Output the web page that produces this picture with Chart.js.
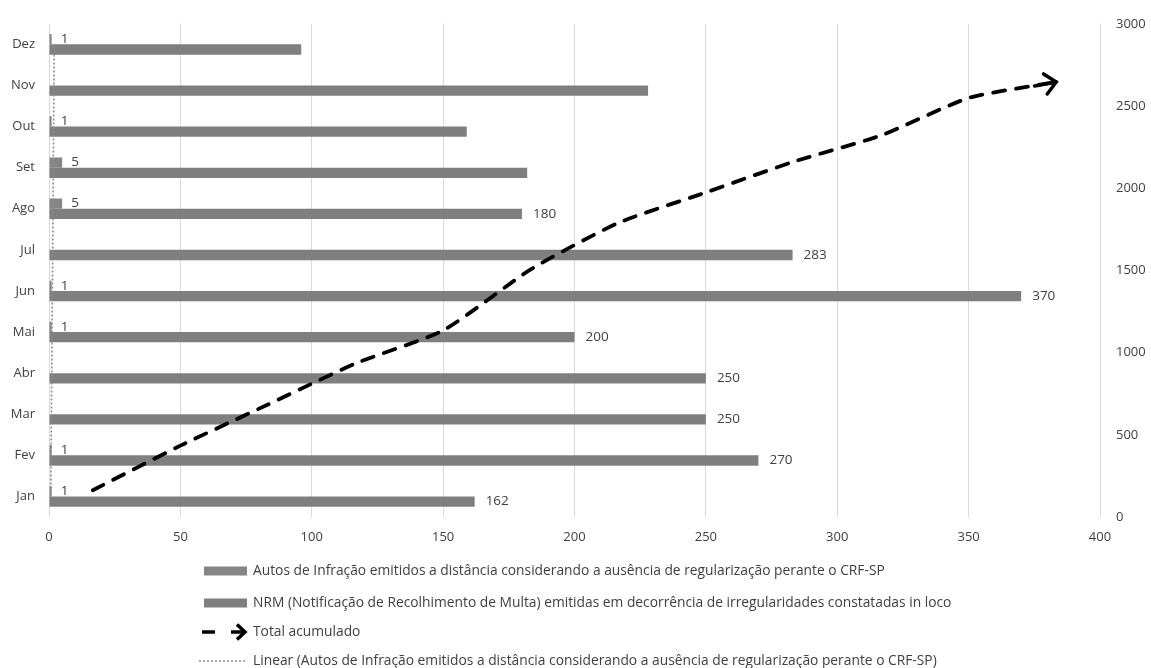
<!DOCTYPE html>
<html>
<head>
<meta charset="utf-8">
<script src="https://cdn.jsdelivr.net/npm/chart.js@4/dist/chart.umd.min.js"></script>
<style>
  html, body { margin: 0; padding: 0; background: #ffffff; }
  #c { display: block; }
</style>
</head>
<body>
<canvas id="c" width="1151" height="668"></canvas>
<script>
// Meses (eixo de categorias)
const months = ['Jan', 'Fev', 'Mar', 'Abr', 'Mai', 'Jun', 'Jul', 'Ago', 'Set', 'Out', 'Nov', 'Dez'];

// Autos de Infração emitidos a distância
const autosInfracao = [1, 1, 0, 0, 1, 1, 0, 5, 5, 1, 0, 1];

// NRM emitidas em decorrência de irregularidades constatadas in loco
const nrmEmitidas = [162, 270, 250, 250, 200, 370, 283, 180, 182, 159, 228, 96];

// Meses cujo valor de NRM aparece rotulado
const nrmLabelShown = [true, true, true, true, true, true, true, true, false, false, false, false];

// Total acumulado (eixo secundário)
const totalAcumulado = [163, 434, 684, 934, 1135, 1506, 1789, 1974, 2161, 2321, 2549, 2646];

// Linha de tendência linear dos Autos de Infração (extremos Jan e Dez)
const tendenciaAutos = [0.68, null, null, null, null, null, null, null, null, null, null, 1.99];

// Textos da legenda
const seriesNames = [
  'Autos de Infração emitidos a distância considerando a ausência de regularização perante o CRF-SP',
  'NRM (Notificação de Recolhimento de Multa) emitidas em decorrência de irregularidades constatadas in loco',
  'Total acumulado',
  'Linear (Autos de Infração emitidos a distância considerando a ausência de regularização perante o CRF-SP)'
];

const FONT = '"Open Sans", "Liberation Sans", sans-serif';
const TEXT = '#404040';
const BAR_A = '#858585';
const BAR_B = '#7f7f7f';

// As barras horizontais compartilham um único eixo de categorias; os eixos
// extras pertencem só às linhas e não devem dividir a largura das barras.
const BarCtrl = Chart.registry.getController('bar');
BarCtrl.prototype._getAxisCount = function () { return 1; };

// Rótulos de valor ao lado das barras
const valueLabels = {
  id: 'valueLabels',
  afterDatasetsDraw(chart) {
    const ctx = chart.ctx;
    ctx.save();
    ctx.font = '13.5px ' + FONT;
    ctx.fillStyle = TEXT;
    ctx.textBaseline = 'middle';
    ctx.textAlign = 'left';
    chart.getDatasetMeta(0).data.forEach((bar, i) => {
      if (autosInfracao[i] > 0) ctx.fillText(String(autosInfracao[i]), bar.x + 9, bar.y);
    });
    chart.getDatasetMeta(1).data.forEach((bar, i) => {
      if (nrmLabelShown[i]) ctx.fillText(String(nrmEmitidas[i]), bar.x + 11, bar.y);
    });
    ctx.restore();
  }
};

function drawChevron(ctx, x, y, angle, len, spread) {
  ctx.beginPath();
  ctx.moveTo(x - len * Math.cos(angle - spread), y - len * Math.sin(angle - spread));
  ctx.lineTo(x, y);
  ctx.lineTo(x - len * Math.cos(angle + spread), y - len * Math.sin(angle + spread));
  ctx.stroke();
}

// Ponta de seta no fim da linha do total acumulado
const arrowHead = {
  id: 'arrowHead',
  afterDatasetsDraw(chart) {
    const pts = chart.getDatasetMeta(2).data;
    const n = pts.length;
    if (n < 2) return;
    const a = pts[n - 2], b = pts[n - 1];
    const angle = Math.atan2(b.y - a.y, b.x - a.x);
    const ctx = chart.ctx;
    ctx.save();
    ctx.strokeStyle = '#000000';
    ctx.lineWidth = 3.5;
    ctx.lineJoin = 'miter';
    ctx.lineCap = 'round';
    ctx.beginPath();
    ctx.moveTo(b.x - 22 * Math.cos(angle), b.y - 22 * Math.sin(angle));
    ctx.lineTo(b.x, b.y);
    ctx.stroke();
    drawChevron(ctx, b.x, b.y, angle, 15, 0.75);
    ctx.restore();
  }
};

// Legenda em lista vertical abaixo do gráfico
const stackedLegend = {
  id: 'stackedLegend',
  afterDraw(chart) {
    const ctx = chart.ctx;
    const ds = chart.data.datasets;
    const x0 = 204, x1 = 247, textX = 253;
    const rows = [571, 603, 632, 661];
    ctx.save();
    ctx.font = '13.8px ' + FONT;
    ctx.fillStyle = TEXT;
    ctx.textBaseline = 'middle';
    ctx.textAlign = 'left';
    ds.forEach((d, i) => {
      const y = rows[i];
      if (d.type === 'line') {
        ctx.save();
        ctx.strokeStyle = d.borderColor;
        if (i === 2) {
          ctx.lineWidth = 3.5;
          ctx.lineCap = 'butt';
          ctx.beginPath();
          ctx.moveTo(x0 - 2, y);
          ctx.lineTo(x0 + 11, y);
          ctx.stroke();
          ctx.beginPath();
          ctx.moveTo(x0 + 27, y);
          ctx.lineTo(x1 - 3, y);
          ctx.stroke();
          drawChevron(ctx, x1 - 2, y, 0, 11, 0.75);
        } else {
          ctx.lineWidth = 1.5;
          ctx.setLineDash([2, 2]);
          ctx.beginPath();
          ctx.moveTo(x0 - 5, y);
          ctx.lineTo(x1, y);
          ctx.stroke();
        }
        ctx.restore();
      } else {
        ctx.fillStyle = d.backgroundColor;
        ctx.fillRect(x0, y - 4.5, x1 - x0, 9);
      }
      ctx.fillStyle = TEXT;
      ctx.fillText(d.label, textX, y);
    });
    ctx.restore();
  }
};

const chart = new Chart(document.getElementById('c'), {
  type: 'bar',
  data: {
    labels: months,
    datasets: [
      {
        label: seriesNames[0],
        data: autosInfracao,
        backgroundColor: BAR_A,
        xAxisID: 'x',
        yAxisID: 'y',
        order: 3
      },
      {
        label: seriesNames[1],
        data: nrmEmitidas,
        backgroundColor: BAR_B,
        xAxisID: 'x',
        yAxisID: 'y',
        order: 3
      },
      {
        type: 'line',
        label: seriesNames[2],
        data: totalAcumulado,
        indexAxis: 'x',
        xAxisID: 'xCat',
        yAxisID: 'yTotal',
        borderColor: '#000000',
        borderWidth: 3.8,
        borderDash: [12, 11],
        borderCapStyle: 'round',
        pointRadius: 0,
        tension: 0.2,
        fill: false,
        order: 0
      },
      {
        type: 'line',
        label: seriesNames[3],
        data: tendenciaAutos,
        indexAxis: 'y',
        xAxisID: 'x',
        yAxisID: 'yTrend',
        borderColor: '#8c8c8c',
        borderWidth: 1.6,
        borderDash: [2, 2],
        spanGaps: true,
        pointRadius: 0,
        fill: false,
        order: 1
      }
    ]
  },
  options: {
    indexAxis: 'y',
    responsive: false,
    animation: false,
    devicePixelRatio: 1,
    layout: { padding: { top: 16.5, bottom: 125, left: 0, right: 0 } },
    datasets: {
      bar: { categoryPercentage: 0.5, barPercentage: 1.0 }
    },
    plugins: {
      legend: { display: false },
      tooltip: { enabled: false },
      title: { display: false }
    },
    scales: {
      x: {
        type: 'linear',
        position: 'bottom',
        min: 0,
        max: 400,
        offset: false,
        ticks: { stepSize: 50, color: TEXT, font: { family: FONT, size: 13 }, padding: 12 },
        grid: { color: '#d9d9d9', lineWidth: 1, drawTicks: false, offset: false },
        border: { display: false },
        afterFit(scale) { scale.height = 26; }
      },
      y: {
        type: 'category',
        position: 'left',
        reverse: true,
        offset: true,
        ticks: { color: TEXT, font: { family: FONT, size: 13 }, padding: 14 },
        grid: { display: false, drawTicks: false },
        border: { display: false },
        afterFit(scale) { scale.width = 49; }
      },
      yTrend: {
        type: 'category',
        axis: 'y',
        position: 'left',
        reverse: true,
        offset: true,
        display: false
      },
      xCat: {
        type: 'category',
        axis: 'x',
        display: false,
        offset: true
      },
      yTotal: {
        type: 'linear',
        axis: 'y',
        position: 'right',
        min: 0,
        max: 3000,
        offset: false,
        ticks: {
          stepSize: 500,
          color: TEXT,
          font: { family: FONT, size: 13 },
          padding: 16,
          callback: (v) => String(v)
        },
        grid: { display: false, drawTicks: false, offset: false },
        border: { display: false },
        afterFit(scale) { scale.width = 51; }
      }
    }
  },
  plugins: [valueLabels, arrowHead, stackedLegend]
});
</script>
</body>
</html>
